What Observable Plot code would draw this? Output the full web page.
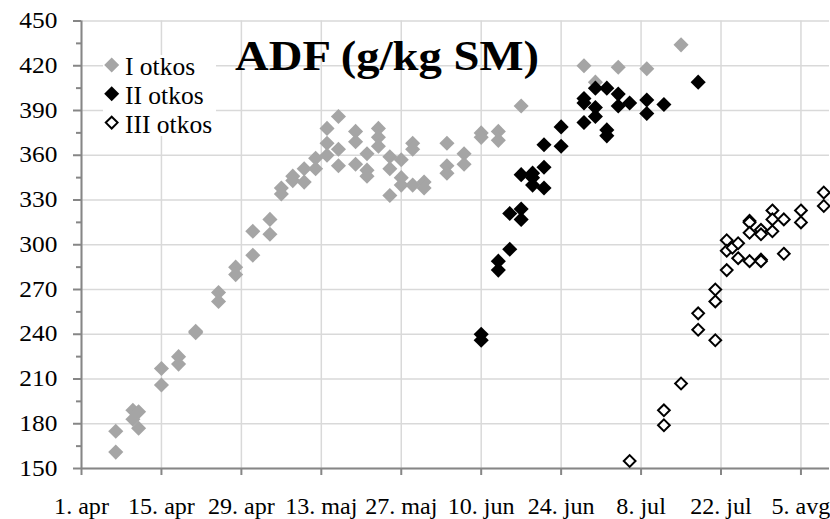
<!DOCTYPE html>
<html>
<head>
<meta charset="utf-8">
<script src="https://cdn.jsdelivr.net/npm/d3@7"></script>
<script src="https://cdn.jsdelivr.net/npm/@observablehq/plot@0.6"></script>
<style>
  body { margin: 0; background: #fff; }
  #chart { width: 830px; height: 519px; }
</style>
</head>
<body>
<div id="chart"></div>
<script>
// ---------- data ----------
const chartTitle = "ADF (g/kg SM)";
const seriesNames = ["I otkos", "II otkos", "III otkos"];

const cut1Dates = [
  "2013-04-07","2013-04-07","2013-04-10","2013-04-10","2013-04-11","2013-04-11",
  "2013-04-15","2013-04-15","2013-04-18","2013-04-18","2013-04-21","2013-04-21",
  "2013-04-25","2013-04-25","2013-04-28","2013-04-28","2013-05-01","2013-05-01",
  "2013-05-04","2013-05-04","2013-05-06","2013-05-06","2013-05-08","2013-05-08",
  "2013-05-10","2013-05-10","2013-05-12","2013-05-12","2013-05-14","2013-05-14","2013-05-14",
  "2013-05-16","2013-05-16","2013-05-16","2013-05-19","2013-05-19","2013-05-19",
  "2013-05-21","2013-05-21","2013-05-21","2013-05-23","2013-05-23","2013-05-23",
  "2013-05-25","2013-05-25","2013-05-25","2013-05-27","2013-05-27","2013-05-27",
  "2013-05-29","2013-05-29","2013-05-29","2013-05-31","2013-05-31",
  "2013-06-04","2013-06-04","2013-06-04","2013-06-07","2013-06-07",
  "2013-06-10","2013-06-10","2013-06-13","2013-06-13","2013-06-17",
  "2013-06-28","2013-06-30","2013-07-04","2013-07-09","2013-07-15"
];
const cut1Values = [
  161,175,189,183,188,177,
  217,206,225,220,242,241,
  268,262,285,280,309,293,
  317,307,338,334,346,343,
  351,342,358,351,378,368,360,
  386,364,353,376,369,354,
  361,350,346,378,372,366,
  359,351,333,357,345,340,
  368,364,340,342,338,
  368,353,348,361,354,
  375,372,376,370,393,
  420,409,419,418,434
];

const cut2Dates = [
  "2013-06-10","2013-06-10","2013-06-13","2013-06-13","2013-06-15","2013-06-15",
  "2013-06-17","2013-06-17","2013-06-17","2013-06-19","2013-06-19","2013-06-19",
  "2013-06-21","2013-06-21","2013-06-21","2013-06-24","2013-06-24",
  "2013-06-28","2013-06-28","2013-06-28","2013-06-30","2013-06-30","2013-06-30",
  "2013-07-02","2013-07-02","2013-07-02","2013-07-04","2013-07-04","2013-07-06",
  "2013-07-09","2013-07-09","2013-07-12","2013-07-18"
];
const cut2Values = [
  240,236,289,283,297,321,
  324,317,347,348,345,340,
  367,352,338,379,366,
  398,395,382,405,392,386,
  405,377,373,401,393,395,
  397,388,394,409
];

const cut3Dates = [
  "2013-07-06","2013-07-12","2013-07-12","2013-07-15","2013-07-18","2013-07-18",
  "2013-07-21","2013-07-21","2013-07-21","2013-07-23","2013-07-23","2013-07-23",
  "2013-07-24","2013-07-25","2013-07-25","2013-07-27","2013-07-27","2013-07-27","2013-07-27",
  "2013-07-29","2013-07-29","2013-07-29","2013-07-29","2013-07-31","2013-07-31","2013-07-31",
  "2013-08-02","2013-08-02","2013-08-05","2013-08-05","2013-08-09","2013-08-09"
];
const cut3Values = [
  155,189,179,207,254,243,
  270,262,236,303,296,283,
  298,301,291,316,315,308,289,
  310,307,290,289,323,317,309,
  317,294,323,315,335,326
];

const xTickDates = ["2013-04-01","2013-04-15","2013-04-29","2013-05-13","2013-05-27",
  "2013-06-10","2013-06-24","2013-07-08","2013-07-22","2013-08-05"];
const xTickLabels = ["1. apr","15. apr","29. apr","13. maj","27. maj",
  "10. jun","24. jun","8. jul","22. jul","5. avg"];
const xDomainDates = ["2013-04-01","2013-08-10"];
const yTicks = [150,180,210,240,270,300,330,360,390,420,450];
const yMinorTicks = [165,195,225,255,285,315,345,375,405,435];
const yDomain = [150,450];

// ---------- build ----------
const parseDate = d3.utcParse("%Y-%m-%d");
const toRows = (dates, values) => dates.map((d, i) => ({date: parseDate(d), value: values[i]}));
const cut1 = toRows(cut1Dates, cut1Values);
const cut2 = toRows(cut2Dates, cut2Values);
const cut3 = toRows(cut3Dates, cut3Values);
const xTicks = xTickDates.map(parseDate);
const labelOf = new Map(xTicks.map((d, i) => [+d, xTickLabels[i]]));

const GRID = "#d9d9d9", AXIS = "#868686", GRAY = "#a5a5a5";
const FONT = "'Liberation Serif', 'Times New Roman', Times, serif";

const svg = Plot.plot({
  width: 830,
  height: 519,
  marginLeft: 81,
  marginRight: 1,
  marginTop: 20.5,
  marginBottom: 51,
  style: {fontFamily: FONT, fontSize: "22.5px", color: "#000", background: "#fff", overflow: "visible"},
  x: {type: "utc", domain: xDomainDates.map(parseDate)},
  y: {domain: yDomain},
  marks: [
    Plot.gridX(xTicks, {stroke: GRID, strokeOpacity: 1, strokeWidth: 1.5}),
    Plot.gridY(yTicks, {stroke: GRID, strokeOpacity: 1, strokeWidth: 1.5}),
    Plot.ruleX([xTicks[0]], {stroke: AXIS, strokeWidth: 2}),
    Plot.ruleY([yDomain[0]], {stroke: AXIS, strokeWidth: 2}),
    Plot.axisX(xTicks, {tickFormat: d => labelOf.get(+d), tickSize: 7, tickPadding: 22.5,
      stroke: AXIS, strokeWidth: 2, fill: "#000", fontSize: 22.5, label: null}),
    Plot.axisY(yTicks, {tickSize: 8, tickPadding: 16, stroke: AXIS, strokeWidth: 2,
      fill: "#000", fontSize: 22.5, label: null}),
    Plot.axisY(yMinorTicks, {tickSize: 5, tickFormat: () => "", stroke: AXIS, strokeWidth: 2, label: null}),
    Plot.dot(cut1, {x: "date", y: "value", symbol: "diamond2", r: 6.8, fill: GRAY}),
    Plot.dot(cut2, {x: "date", y: "value", symbol: "diamond2", r: 6.8, fill: "#000"}),
    Plot.dot(cut3, {x: "date", y: "value", symbol: "diamond2", r: 5.3, fill: "#fff", stroke: "#000", strokeWidth: 2})
  ]
});

// the reference font is drawn a little wider than Liberation Serif: stretch tick labels
const stretch = (selector, k) => d3.select(svg).selectAll(selector).each(function () {
  const t = d3.select(this);
  t.attr("transform", (t.attr("transform") || "") + ` scale(${k},1)`);
});
stretch("g[aria-label='x-axis tick label'] text", 1.07);
stretch("g[aria-label='y-axis tick label'] text", 1.13);

// ---------- legend (inside plot area) ----------
const s = d3.select(svg);
const legend = s.append("g").attr("aria-label", "legend").attr("text-anchor", "start");
legend.append("rect").attr("x", 103).attr("y", 55).attr("width", 113).attr("height", 81).attr("fill", "#fff");
const legendStyles = [
  {fill: GRAY, stroke: "none", r: 7.5},
  {fill: "#000", stroke: "none", r: 7.5},
  {fill: "#fff", stroke: "#000", r: 5.9}
];
seriesNames.forEach((name, i) => {
  const cy = 65 + i * 28.8, st = legendStyles[i];
  legend.append("path")
    .attr("d", `M${111.7},${cy - st.r}L${111.7 + st.r},${cy}L${111.7},${cy + st.r}L${111.7 - st.r},${cy}Z`)
    .attr("fill", st.fill).attr("stroke", st.stroke).attr("stroke-width", 2);
  legend.append("text")
    .attr("x", 125).attr("y", cy + 10)
    .attr("text-anchor", "start")
    .attr("font-family", FONT).attr("font-size", 25.5).attr("fill", "#000")
    .text(name);
});

// ---------- title ----------
s.append("text")
  .attr("transform", "translate(235,69.5) scale(1.085,1)")
  .attr("text-anchor", "start")
  .attr("font-family", FONT).attr("font-weight", "bold").attr("font-size", 43).attr("fill", "#000")
  .text(chartTitle);

document.getElementById("chart").appendChild(svg);
</script>
</body>
</html>
